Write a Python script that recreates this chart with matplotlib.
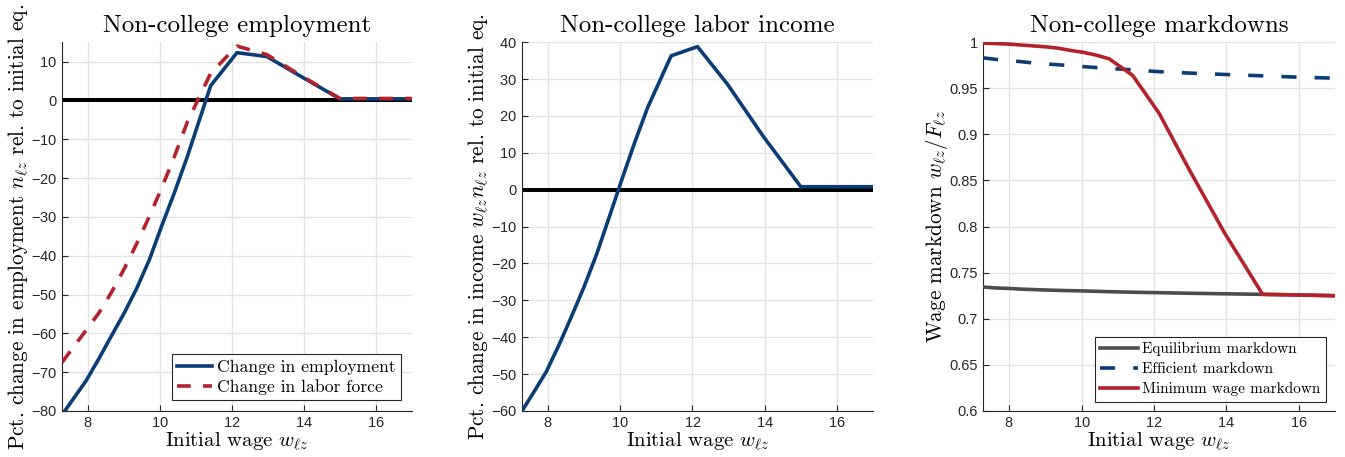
import numpy as np
import matplotlib
matplotlib.use("Agg")
import matplotlib.pyplot as plt

plt.rcParams['font.family'] = 'serif'
plt.rcParams['font.serif'] = ['cmr10']
plt.rcParams['mathtext.fontset'] = 'cm'
plt.rcParams['axes.unicode_minus'] = False
plt.rcParams['axes.formatter.use_mathtext'] = True

# wage grid (initial wage w_lz)
wage = [7.28, 7.6, 7.95, 8.3, 8.65, 9.0, 9.35, 9.7, 10.05, 10.4, 10.76,
        11.41, 12.14, 12.97, 13.95, 15.0, 16.0, 17.0]

# panel 1: employment / labor force change (%)
emp_change = [-81, -76.8, -72.2, -66.6, -60.7, -54.9, -48.5, -41.2, -32.3,
              -23.8, -14.5, 3.8, 12.3, 11.3, 6.0, 0.4, 0.4, 0.4]
lf_change = [-67.5, -63.5, -59.2, -54.8, -49.5, -43.5, -37.0, -30.0, -22.5,
             -14.5, -5.6, 7.0, 14.0, 11.8, 6.2, 0.5, 0.5, 0.5]

# panel 2: labor income change (%)
inc_change = [-60, -55, -49.4, -42.2, -34.4, -26.3, -17.4, -7.3, 2.9, 12.8,
              22.3, 36.3, 38.8, 28.6, 14.6, 0.8, 0.8, 0.8]

# panel 3: markdowns
md_equil = [0.7345, 0.7335, 0.733, 0.7322, 0.7317, 0.7312, 0.7308, 0.7305,
            0.7302, 0.7298, 0.7294, 0.7288, 0.7283, 0.7277, 0.7271, 0.7265,
            0.7258, 0.725]
md_eff = [0.983, 0.9815, 0.980, 0.979, 0.9775, 0.9765, 0.9755, 0.9745, 0.9735,
          0.9725, 0.9715, 0.970, 0.968, 0.9665, 0.965, 0.9635, 0.962, 0.961]
md_minw = [0.999, 0.9985, 0.998, 0.997, 0.996, 0.995, 0.9935, 0.991, 0.989,
           0.986, 0.982, 0.964, 0.923, 0.862, 0.793, 0.7265, 0.7258, 0.725]

navy = '#0b3c74'
red = '#b3232b'
grey = '#4d4d4d'
tickfont = 'Liberation Sans'
LW = 2.6

fig = plt.figure(figsize=(13.45, 4.57), dpi=100)
boxes = [[0.0461, 0.1007, 0.2602, 0.807],
         [0.3881, 0.1007, 0.2610, 0.807],
         [0.7309, 0.1007, 0.2617, 0.807]]
axs = [fig.add_axes(b) for b in boxes]


def style(ax, ylim, yticks, ylabel, title):
    ax.set_xlim(7.28, 17)
    ax.set_ylim(*ylim)
    ax.set_xticks([8, 10, 12, 14, 16])
    ax.set_yticks(yticks)
    ax.grid(True, color='#e3e3e3', lw=1.0)
    ax.set_axisbelow(True)
    for s in ['top', 'right']:
        ax.spines[s].set_visible(False)
    for s in ['left', 'bottom']:
        ax.spines[s].set_color('#262626')
        ax.spines[s].set_linewidth(0.8)
    ax.tick_params(direction='in', length=4, width=0.8, colors='#262626',
                   labelsize=10.5)
    for lab in ax.get_xticklabels() + ax.get_yticklabels():
        lab.set_fontfamily(tickfont)
    ax.set_xlabel(r'Initial wage $w_{\ell z}$', fontsize=15, labelpad=1)
    ax.set_ylabel(ylabel, fontsize=15.3, labelpad=0)
    ax.set_title(title, fontsize=18, pad=7)


# panel 1
ax = axs[0]
ax.axhline(0, color='black', lw=2.9, zorder=2)
ax.plot(wage, emp_change, color=navy, lw=LW, label='Change in employment', zorder=3)
ax.plot(wage, lf_change, color=red, lw=LW, ls=(0, (3.8, 3.4)),
        label='Change in labor force', zorder=3)
style(ax, (-80, 15), np.arange(-80, 11, 10),
      r'Pct. change in employment $n_{\ell z}$ rel. to initial eq.',
      'Non-college employment')
leg = ax.legend(loc='lower right', fontsize=12.7, fancybox=False, framealpha=1,
                edgecolor='#262626', borderaxespad=0.6, handlelength=2.0,
                handletextpad=0.3, borderpad=0.3, labelspacing=0.25)
leg.get_frame().set_linewidth(0.8)

# panel 2
ax = axs[1]
ax.axhline(0, color='black', lw=2.9, zorder=2)
ax.plot(wage, inc_change, color=navy, lw=LW, zorder=3)
style(ax, (-60, 40), np.arange(-60, 41, 10),
      r'Pct. change in income $w_{\ell z} n_{\ell z}$ rel. to initial eq.',
      'Non-college labor income')

# panel 3
ax = axs[2]
ax.plot(wage, md_equil, color=grey, lw=LW, label='Equilibrium markdown', zorder=3)
ax.plot(wage, md_eff, color=navy, lw=LW, ls=(0, (4.2, 5)),
        label='Efficient markdown', zorder=3)
ax.plot(wage, md_minw, color=red, lw=LW, label='Minimum wage markdown', zorder=3)
style(ax, (0.6, 1.0), [0.6, 0.65, 0.7, 0.75, 0.8, 0.85, 0.9, 0.95, 1.0],
      r'Wage markdown $w_{\ell z}/F_{\ell z}$', 'Non-college markdowns')
ax.set_yticklabels(['0.6', '0.65', '0.7', '0.75', '0.8', '0.85', '0.9', '0.95', '1'],
                   fontfamily=tickfont)
leg = ax.legend(loc='lower right', fontsize=11, fancybox=False, framealpha=1,
                edgecolor='#262626', borderaxespad=0.6, handlelength=2.45,
                handletextpad=0.3, borderpad=0.35, labelspacing=0.4)
leg.get_frame().set_linewidth(0.8)

fig.savefig('out.png', dpi=100)
